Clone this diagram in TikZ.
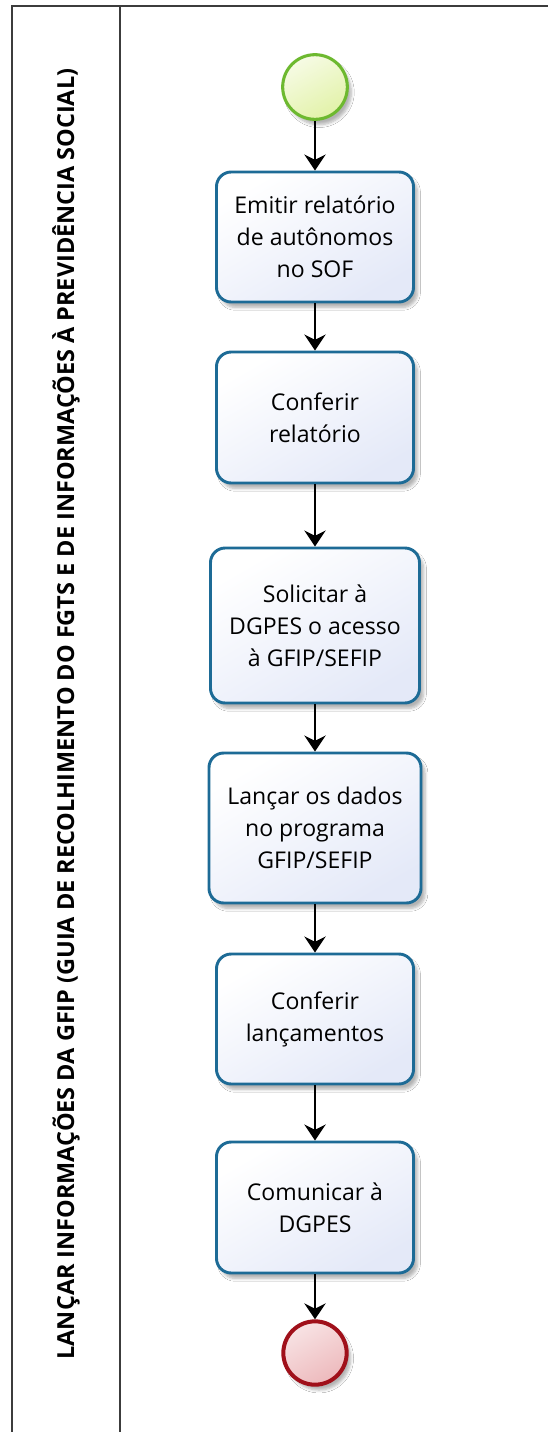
\documentclass[tikz,border=0pt]{standalone}
\usepackage{fontspec}
\setmainfont{Open Sans}
\usetikzlibrary{arrows.meta,shadows.blur}
\definecolor{frameline}{HTML}{3C3C3C}
\definecolor{taskline}{HTML}{1D6B96}
\definecolor{taskfill}{HTML}{E4E9F8}
\definecolor{startline}{HTML}{6DB92F}
\definecolor{startfill}{HTML}{E2F2A8}
\definecolor{endline}{HTML}{A0101A}
\definecolor{endfill}{HTML}{EDB9BC}
\tikzset{
  frame/.style={draw=frameline, line width=1.5pt},
  task/.style={draw=taskline, line width=2.2pt, rounded corners=11pt,
    top color=white, bottom color=taskfill, shading angle=30,
    align=center, text=black, inner sep=0pt,
    font=\fontsize{17.3}{24}\selectfont,
    blur shadow={shadow xshift=3pt, shadow yshift=-4pt, shadow blur steps=6, shadow opacity=30}},
  startev/.style={circle, draw=startline, line width=2.3pt, minimum size=48.5pt, inner sep=0pt,
    top color=white!70!startfill, bottom color=startfill, shading angle=30,
    blur shadow={shadow xshift=3pt, shadow yshift=-4pt, shadow blur steps=6, shadow opacity=30}},
  endev/.style={circle, draw=endline, line width=3pt, minimum size=47.5pt, inner sep=0pt,
    top color=white!60!endfill, bottom color=endfill, shading angle=30,
    blur shadow={shadow xshift=3pt, shadow yshift=-4pt, shadow blur steps=6, shadow opacity=30}},
  flow/.style={line width=1.5pt, black, -{Stealth[length=12pt, width=16pt, inset=4pt]}},
  lanelabel/.style={rotate=90, font=\bfseries\fontsize{17.6}{20}\selectfont, text=black, inner sep=0pt}
}
\begin{document}
\begin{tikzpicture}[x=0.75pt, y=-0.75pt]
\useasboundingbox (0,0) rectangle (547,1432);
\fill[white] (0,0) rectangle (547,1432);
% pool frame
\draw[frame] (560,6) -- (12,6) -- (12,1445);
\draw[frame] (120,6) -- (120,1445);
\node[lanelabel] (lbl) at (66,714) {LANÇAR INFORMAÇÕES DA GFIP (GUIA DE RECOLHIMENTO DO FGTS E DE INFORMAÇÕES À PREVIDÊNCIA SOCIAL)};
% events and tasks
\node[startev] (start) at (315,87) {};
\node[task, minimum width=147.75pt, minimum height=97.5pt] (t1) at (315,237) {Emitir relatório\\de autônomos\\no SOF};
\node[task, minimum width=147.75pt, minimum height=98.25pt] (t2) at (315,417.5) {Conferir\\relatório};
\node[task, minimum width=156.75pt, minimum height=116.25pt] (t3) at (315,625.5) {Solicitar à\\DGPES o acesso\\à GFIP/SEFIP};
\node[task, minimum width=159pt, minimum height=112.5pt] (t4) at (315,828) {Lançar os dados\\no programa\\GFIP/SEFIP};
\node[task, minimum width=147.75pt, minimum height=97.5pt] (t5) at (315,1019) {Conferir\\lançamentos};
\node[task, minimum width=147.75pt, minimum height=98.25pt] (t6) at (315,1207.5) {Comunicar à\\DGPES};
\node[endev] (end) at (315,1353) {};
% flows
\draw[flow] (start) -- (t1);
\draw[flow] (t1) -- (t2);
\draw[flow] (t2) -- (t3);
\draw[flow] (t3) -- (t4);
\draw[flow] (t4) -- (t5);
\draw[flow] (t5) -- (t6);
\draw[flow] (t6) -- (end);
\end{tikzpicture}
\end{document}
